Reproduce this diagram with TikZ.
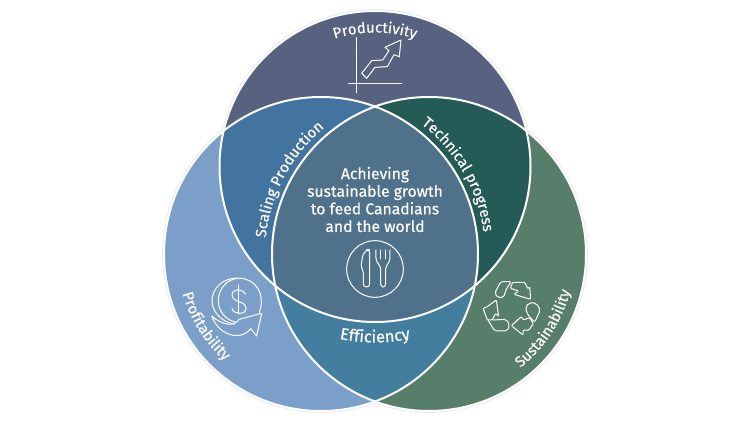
\documentclass[tikz,border=0pt]{standalone}
\usepackage{fontspec}
\setmainfont{Fira Sans}[FakeBold=0.25]
\usetikzlibrary{decorations.text}
\definecolor{cTop}{HTML}{56627F}
\definecolor{cLeft}{HTML}{7B9FC9}
\definecolor{cRight}{HTML}{577D6B}
\definecolor{cLT}{HTML}{42749F}
\definecolor{cTR}{HTML}{245B57}
\definecolor{cLR}{HTML}{447E9F}
\definecolor{cMid}{HTML}{50718A}
\definecolor{cHalo}{HTML}{E4E8EE}
\newcommand{\pathTop}{(375,-166.5) circle[radius=155.5]}
\newcommand{\pathLeft}{(321,-254) circle[radius=157]}
\newcommand{\pathRight}{(429,-254) circle[radius=157]}
\tikzset{
  x=1pt,y=1pt,
  ring/.style={draw=white,line width=2pt},
  halo/.style={draw=cHalo,line width=3.6pt},
  icon/.style={draw=white,line width=1pt,line join=round,line cap=round},
  arclabel/.style 2 args={postaction={decorate},decoration={text along path,text align=center,text={|\color{white}\fontsize{#1}{18}\selectfont|#2}}},
  zoomed/.style={x=0.3333pt,y=-0.3333pt}
}
\begin{document}
\begin{tikzpicture}
\useasboundingbox (0,0) rectangle (750,-422);
\fill[white] (0,0) rectangle (750,-422);
% base discs
\draw[halo] \pathTop; \draw[halo] \pathLeft; \draw[halo] \pathRight;
\fill[cLeft] \pathLeft;
\fill[cRight] \pathRight;
\fill[cTop] \pathTop;
% overlaps
\begin{scope}\clip \pathLeft; \fill[cLT] \pathTop; \end{scope}
\begin{scope}\clip \pathRight; \fill[cTR] \pathTop; \end{scope}
\begin{scope}\clip \pathLeft; \fill[cLR] \pathRight; \end{scope}
\begin{scope}\clip \pathLeft; \clip \pathRight; \fill[cMid] \pathTop; \end{scope}
\draw[ring] \pathTop; \draw[ring] \pathLeft; \draw[ring] \pathRight;
% curved labels
\path[arclabel={15}{Productivity}] (375,-166.5) ++(125:134) arc[start angle=125,end angle=55,radius=134];
\path[arclabel={15}{Scaling Production}] (429,-254) ++(192:164) arc[start angle=192,end angle=112,radius=164];
\path[arclabel={15}{Technical progress}] (321,-254) ++(70:164) arc[start angle=70,end angle=-10,radius=164];
\path[arclabel={16.5}{Efficiency}] (375,-166.5) ++(-115:176) arc[start angle=-115,end angle=-65,radius=176];
\path[arclabel={15}{Profitability}] (321,-254) ++(172:144) arc[start angle=172,end angle=252,radius=144];
\path[arclabel={15}{Sustainability}] (429,-254) ++(-73:146) arc[start angle=-73,end angle=7,radius=146];
% central text
\node[text=white,align=center,font=\fontsize{15.7}{17.6}\selectfont] (centre) at (375,-199.5)
  {Achieving\\sustainable growth\\to feed Canadians\\and the world};
% chart icon
\begin{scope}[shift={(340,-30)},zoomed]
  \draw[icon,line cap=butt] (48,22) -- (48,188);
  \draw[icon,line cap=butt] (24,160) -- (186,160);
  \draw[icon] (65,130) -- (95,92) -- (128,90) -- (147,62) -- (135,52) -- (183,30) -- (178,80) -- (162,74) -- (142,110) -- (105,112) -- (80,145) -- cycle;
\end{scope}
% plate icon
\begin{scope}[shift={(340,-235)},zoomed]
  \draw[icon] (105,102) circle[radius=85];
  \draw[icon,rounded corners=3pt] (80,44) -- (89,44) -- (89,156) -- (70,156) -- (70,108) -- (63,96) -- (68,60) -- cycle;
  \draw[icon,rounded corners=3pt] (108,45) -- (108,78) -- (122,95) -- (122,156) -- (137,156) -- (137,95) -- (150,78) -- (150,45);
  \draw[icon] (122,45) -- (122,72); \draw[icon] (136,45) -- (136,72);
\end{scope}
% money icon
\begin{scope}[shift={(160,-230)},zoomed]
  \draw[icon] (298,248) .. controls (318,190) and (285,145) .. (238,145) .. controls (200,145) and (175,178) .. (175,212) .. controls (175,245) and (198,270) .. (226,276);
  \draw[icon] (238,145) .. controls (190,140) and (155,175) .. (156,215) .. controls (158,250) and (190,278) .. (224,282);
  \draw[icon] (155,258) .. controls (185,285) and (222,292) .. (238,268) -- (305,250) -- (290,318) -- (272,296) .. controls (250,330) and (180,325) .. (155,258) -- cycle;
  \draw[icon] (237,165) -- (237,252);
  \draw[icon] (257,192) .. controls (250,175) and (216,175) .. (216,195) .. controls (216,218) and (258,212) .. (258,235) .. controls (258,255) and (222,255) .. (216,236);
\end{scope}
% recycling icon
\begin{scope}[shift={(478,-275)},zoomed]
  \draw[icon,rounded corners=2pt] (50,55) -- (68,20) -- (100,20) -- (86,40) -- (76,68) -- (60,68) -- cycle;
  \draw[icon,rounded corners=1pt] (97,40) -- (104,22) -- (140,22) -- (150,42) -- (155,35) -- (158,73) -- (108,58) -- (122,48) -- cycle;
  \draw[icon,rounded corners=2pt] (142,100) -- (152,84) -- (174,84) -- (187,105) -- (170,142) -- (150,120) -- cycle;
  \draw[icon,rounded corners=1pt] (136,135) -- (155,128) -- (166,146) -- (152,166) -- (135,165) -- (135,180) -- (100,152) -- (130,125) -- cycle;
  \draw[icon,rounded corners=2pt] (45,135) -- (85,133) -- (95,150) -- (88,168) -- (50,168) -- (30,135);
  \draw[icon,rounded corners=1pt] (42,135) -- (28,135) -- (15,100) -- (25,97) -- (55,75) -- (62,125) -- (53,115) -- cycle;
\end{scope}
\end{tikzpicture}
\end{document}
